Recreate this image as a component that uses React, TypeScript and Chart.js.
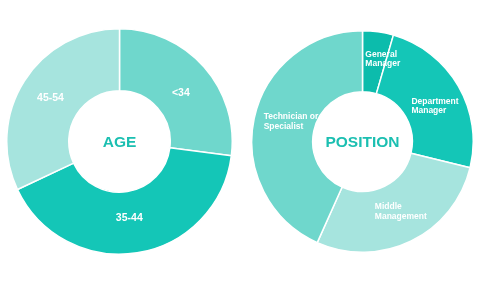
import React, { useEffect, useRef } from "react";
import { Chart, registerables } from "chart.js";

Chart.register(...registerables);

// ---- data ----
const ageLabels = ["<34", "35-44", "45-54"];
const ageValues = [27, 41, 32];

const positionLabels = [
  "General\nManager",
  "Department\nManager",
  "Middle\nManagement",
  "Technician or\nSpecialist",
];
const positionValues = [4.5, 24.3, 27.9, 43.3];

const ageTitle = "AGE";
const positionTitle = "POSITION";

// ---- styles ----
const ageColors = ["#6fd7cc", "#14c6b7", "#a6e4de"];
const positionColors = ["#0cbcac", "#14c6b7", "#a6e4de", "#6fd7cc"];
const titleColor = "#1bbfb1";
const FONT = "'Liberation Sans', Arial, Helvetica, sans-serif";
// small label nudges (px) relative to each slice's centroid
const ageLabelNudge = [[0, 6], [-3, -4], [0, 0]];
const positionLabelNudge = [[9, -3], [3, 5], [3, -2], [7, -3]];

const labelPlugin = {
  id: "sliceLabels",
  afterDatasetsDraw(chart: any, _args: any, opts: any) {
    const ctx = chart.ctx;
    const meta = chart.getDatasetMeta(0);
    const labels = chart.data.labels as string[];
    ctx.save();
    ctx.fillStyle = "#ffffff";
    ctx.font = `bold ${opts.size}px ${FONT}`;
    ctx.textBaseline = "middle";
    meta.data.forEach((arc: any, i: number) => {
      const p = arc.getProps(["x", "y", "startAngle", "endAngle", "innerRadius", "outerRadius"], true);
      const mid = (p.startAngle + p.endAngle) / 2;
      const r = (p.innerRadius + p.outerRadius) / 2;
      const nudge = (opts.nudge && opts.nudge[i]) || [0, 0];
      const cx = p.x + Math.cos(mid) * r + nudge[0];
      const cy = p.y + Math.sin(mid) * r + nudge[1];
      const lines = String(labels[i]).split("\n");
      const w = Math.max(...lines.map((l) => ctx.measureText(l).width));
      const lh = opts.size * 1.08;
      const top = cy - ((lines.length - 1) * lh) / 2;
      lines.forEach((l, k) => {
        if (lines.length > 1) {
          ctx.textAlign = "left";
          ctx.fillText(l, cx - w / 2, top + k * lh);
        } else {
          ctx.textAlign = "center";
          ctx.fillText(l, cx, top + k * lh);
        }
      });
    });
    const a = meta.data[0];
    if (a) {
      ctx.fillStyle = titleColor;
      ctx.font = `bold ${opts.titleSize}px ${FONT}`;
      ctx.textAlign = "center";
      ctx.textBaseline = "middle";
      ctx.fillText(opts.title, a.x, a.y + 1);
    }
    ctx.restore();
  },
};

function Donut(props: {
  labels: string[];
  values: number[];
  colors: string[];
  title: string;
  size: number;
  left: number;
  top: number;
  labelSize: number;
  nudge: number[][];
}) {
  const ref = useRef<HTMLCanvasElement | null>(null);
  useEffect(() => {
    if (!ref.current) return;
    const chart = new Chart(ref.current, {
      type: "doughnut",
      data: {
        labels: props.labels,
        datasets: [
          {
            data: props.values,
            backgroundColor: props.colors,
            borderColor: "#ffffff",
            borderWidth: 1.5,
          },
        ],
      },
      options: {
        responsive: false,
        animation: false,
        cutout: "45%",
        layout: { padding: 0 },
        plugins: {
          legend: { display: false },
          tooltip: { enabled: false },
          sliceLabels: {
            size: props.labelSize,
            titleSize: 15.5,
            title: props.title,
            nudge: props.nudge,
          },
        } as any,
      },
      plugins: [labelPlugin],
    });
    return () => chart.destroy();
  }, []);
  return (
    <canvas
      ref={ref}
      width={props.size}
      height={props.size}
      style={{
        position: "absolute",
        left: props.left,
        top: props.top,
        width: props.size,
        height: props.size,
      }}
    />
  );
}

export default function App() {
  return (
    <div
      style={{
        position: "fixed",
        left: 0,
        top: 0,
        width: 480,
        height: 287,
        background: "#ffffff",
        overflow: "hidden",
      }}
    >
      <Donut
        labels={ageLabels}
        values={ageValues}
        colors={ageColors}
        title={ageTitle}
        size={227}
        left={6}
        top={28}
        labelSize={10.5}
        nudge={ageLabelNudge}
      />
      <Donut
        labels={positionLabels}
        values={positionValues}
        colors={positionColors}
        title={positionTitle}
        size={223}
        left={251}
        top={30}
        labelSize={8.5}
        nudge={positionLabelNudge}
      />
    </div>
  );
}
